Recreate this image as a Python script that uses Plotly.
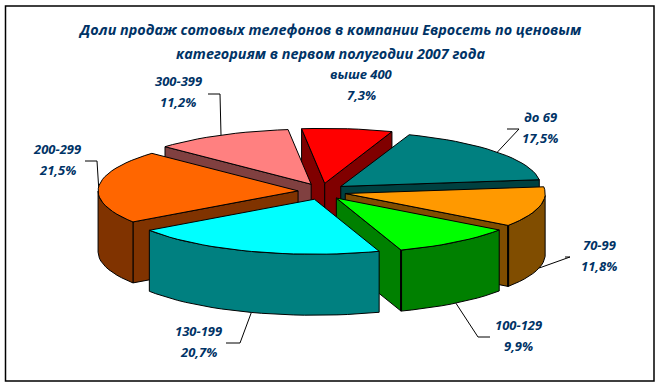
import math
import plotly.graph_objects as go

# Data
categories = ["до 69", "70-99", "100-129", "130-199", "200-299", "300-399", "выше 400"]
shares = [17.5, 11.8, 9.9, 20.7, 21.5, 11.2, 7.3]
share_labels = ["17,5%", "11,8%", "9,9%", "20,7%", "21,5%", "11,2%", "7,3%"]
top_colors = ["#008080", "#FF9900", "#00FF00", "#00FFFF", "#FF6600", "#FF8080", "#FF0000"]
side_colors = ["#004040", "#804D00", "#008000", "#008080", "#803300", "#804040", "#800000"]
title_lines = ["Доли продаж сотовых телефонов в компании Евросеть по ценовым",
               "категориям в первом полугодии 2007 года"]
label_pos = [(540, 117), (599, 245), (518, 325), (198, 331), (57, 149), (178, 81), (361, 74)]
leaders = [[(519, 129), (507, 129)], [(570, 257), (565, 257)], [(478, 337), (490, 337)],
           [(240, 343), (226, 343)], [(97, 161), (85, 161)], [(220, 94), (208, 94)], []]

# Geometry (pixels)
CX, CY, R, K, DEPTH, EXPLODE, ROT = 322, 191.5, 200, 0.275, 61, 24, 20
EXPLODE_K = 0.34
NAVY = "#003366"
FONT = "Open Sans"


def proj(ang, r, ox, oy, k=K):
    a = math.radians(ang)
    return ox + r * math.sin(a), oy - k * r * math.cos(a)


angles = [ROT]
for s in shares:
    angles.append(angles[-1] + s * 3.6)

fig = go.Figure()


def poly(pts, color, width=1):
    xs = [p[0] for p in pts] + [pts[0][0]]
    ys = [p[1] for p in pts] + [pts[0][1]]
    fig.add_trace(go.Scatter(x=xs, y=ys, mode="lines", fill="toself", fillcolor=color,
                             line=dict(color="black", width=width), hoverinfo="skip",
                             showlegend=False))


def seg(pts, width=1):
    fig.add_trace(go.Scatter(x=[p[0] for p in pts], y=[p[1] for p in pts], mode="lines",
                             line=dict(color="black", width=width), hoverinfo="skip",
                             showlegend=False))


slices = []
for i in range(len(shares)):
    a0, a1 = angles[i], angles[i + 1]
    mid = (a0 + a1) / 2
    ox, oy = proj(mid, EXPLODE, CX, CY, EXPLODE_K)
    slices.append((i, a0, a1, mid, ox, oy))

# painter's order: back to front
order = [6, 5, 0, 4, 1, 2, 3]
for i in order:
    _, a0, a1, mid, ox, oy = slices[i]
    n = max(6, int(a1 - a0) // 3)
    arc = [proj(a0 + (a1 - a0) * t / n, R, ox, oy) for t in range(n + 1)]
    down = lambda p: (p[0], p[1] + DEPTH)
    apex = (ox, oy)
    # radial walls only where they face the viewer
    if 90 < (a0 - 90) % 360 < 270:
        poly([apex, arc[0], down(arc[0]), down(apex)], side_colors[i])
    if 90 < (a1 + 90) % 360 < 270:
        poly([apex, arc[-1], down(arc[-1]), down(apex)], side_colors[i])
    front = [p for t, p in enumerate(arc)
             if 90 <= (a0 + (a1 - a0) * t / n) % 360 <= 270]
    if len(front) > 1:
        poly(front + [down(p) for p in reversed(front)], side_colors[i])
    poly([apex] + arc, top_colors[i])
    if i in (1, 2):
        seg([arc[-1], down(arc[-1])], width=2)

# leader lines
for i in range(len(shares)):
    if not leaders[i]:
        continue
    _, a0, a1, mid, ox, oy = slices[i]
    ax, ay = proj(mid, R, ox, oy)
    if 90 <= mid % 360 <= 270:
        ay += DEPTH
    seg([(ax, ay)] + leaders[i])

anns = []
for j, t in enumerate(title_lines):
    anns.append(dict(x=330, y=29 + 24 * j, text="<b><i>%s</i></b>" % t, showarrow=False,
                     xanchor="center", yanchor="middle", font=dict(size=14.4, color=NAVY, family=FONT)))
for i, (c, l) in enumerate(zip(categories, share_labels)):
    x, y = label_pos[i]
    anns.append(dict(x=x, y=y, text="<b><i>%s</i></b>" % c, showarrow=False, xanchor="center",
                     yanchor="middle", font=dict(size=13, color=NAVY, family=FONT)))
    anns.append(dict(x=x, y=y + 21, text="<b><i>%s</i></b>" % l, showarrow=False, xanchor="center",
                     yanchor="middle", font=dict(size=13, color=NAVY, family=FONT)))

fig.update_layout(
    width=661, height=388, margin=dict(l=0, r=0, t=0, b=0), paper_bgcolor="white",
    plot_bgcolor="white", showlegend=False, annotations=anns,
    xaxis=dict(range=[0, 661], visible=False, fixedrange=True),
    yaxis=dict(range=[388, 0], visible=False, fixedrange=True),
    shapes=[dict(type="rect", x0=5.5, y0=6, x1=654, y1=381, line=dict(color="black", width=1.5),
                 layer="below")],
)
fig.write_html("out.html", config=dict(displayModeBar=False),
               post_script="document.body.style.margin='0';document.body.style.overflow='hidden';")
